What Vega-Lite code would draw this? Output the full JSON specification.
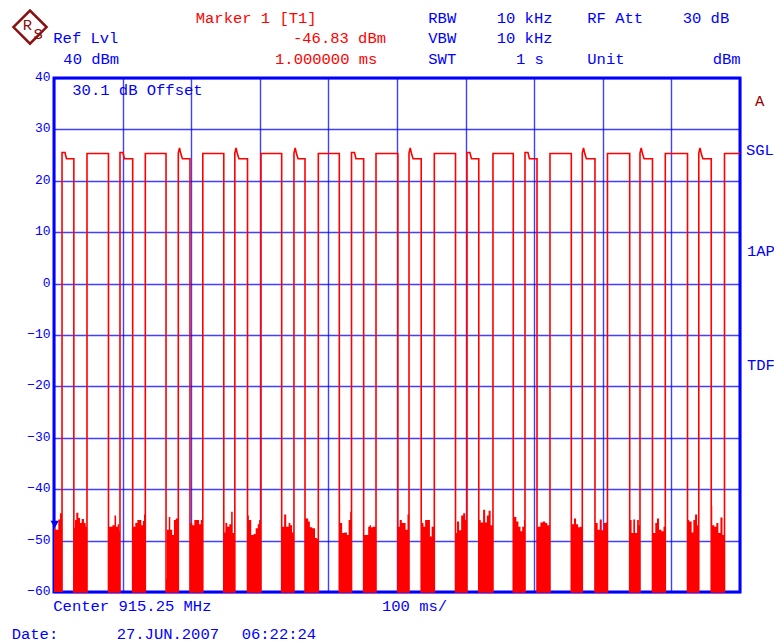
{
  "$schema": "https://vega.github.io/schema/vega-lite/v6.json",
  "autosize": "none",
  "width": 686,
  "height": 514,
  "padding": {"left": 54, "top": 78, "right": 34, "bottom": 52},
  "background": "#ffffff",
  "config": {
    "view": {"stroke": "#0000ff", "strokeWidth": 3},
    "font": "Liberation Mono"
  },
  "datasets": {
    "trace": [
      {"t": 11.7, "dBm": -60}, {"t": 11.7, "dBm": 25.5}, {"t": 16.0, "dBm": 25.5}, {"t": 18.2, "dBm": 24.3}, {"t": 28.9, "dBm": 24.3}, {"t": 28.9, "dBm": -60},
      {"t": 48.1, "dBm": -60}, {"t": 48.1, "dBm": 25.3}, {"t": 79.4, "dBm": 25.3}, {"t": 79.4, "dBm": -60},
      {"t": 96.2, "dBm": -60}, {"t": 96.2, "dBm": 25.5}, {"t": 100.5, "dBm": 25.5}, {"t": 102.7, "dBm": 24.3}, {"t": 114.7, "dBm": 24.3}, {"t": 114.7, "dBm": -60},
      {"t": 133.1, "dBm": -60}, {"t": 133.1, "dBm": 25.3}, {"t": 163.3, "dBm": 25.3}, {"t": 163.3, "dBm": -60},
      {"t": 181.2, "dBm": -60}, {"t": 181.2, "dBm": 25.4}, {"t": 183.0, "dBm": 26.4}, {"t": 184.8, "dBm": 25.3}, {"t": 187.2, "dBm": 24.3}, {"t": 198.2, "dBm": 24.3}, {"t": 198.2, "dBm": -60},
      {"t": 216.9, "dBm": -60}, {"t": 216.9, "dBm": 25.3}, {"t": 247.5, "dBm": 25.3}, {"t": 247.5, "dBm": -60},
      {"t": 263.6, "dBm": -60}, {"t": 263.6, "dBm": 25.4}, {"t": 265.4, "dBm": 26.4}, {"t": 267.2, "dBm": 25.3}, {"t": 269.6, "dBm": 24.3}, {"t": 282.1, "dBm": 24.3}, {"t": 282.1, "dBm": -60},
      {"t": 301.7, "dBm": -60}, {"t": 301.7, "dBm": 25.3}, {"t": 331.9, "dBm": 25.3}, {"t": 331.9, "dBm": -60},
      {"t": 349.8, "dBm": -60}, {"t": 349.8, "dBm": 25.4}, {"t": 351.6, "dBm": 26.4}, {"t": 353.4, "dBm": 25.3}, {"t": 355.8, "dBm": 24.3}, {"t": 365.9, "dBm": 24.3}, {"t": 365.9, "dBm": -60},
      {"t": 385.3, "dBm": -60}, {"t": 385.3, "dBm": 25.3}, {"t": 415.9, "dBm": 25.3}, {"t": 415.9, "dBm": -60},
      {"t": 433.7, "dBm": -60}, {"t": 433.7, "dBm": 25.5}, {"t": 438.0, "dBm": 25.5}, {"t": 440.2, "dBm": 24.3}, {"t": 451.4, "dBm": 24.3}, {"t": 451.4, "dBm": -60},
      {"t": 469.4, "dBm": -60}, {"t": 469.4, "dBm": 25.3}, {"t": 501.2, "dBm": 25.3}, {"t": 501.2, "dBm": -60},
      {"t": 517.5, "dBm": -60}, {"t": 517.5, "dBm": 25.4}, {"t": 519.3, "dBm": 26.4}, {"t": 521.1, "dBm": 25.3}, {"t": 523.5, "dBm": 24.3}, {"t": 535.3, "dBm": 24.3}, {"t": 535.3, "dBm": -60},
      {"t": 554.4, "dBm": -60}, {"t": 554.4, "dBm": 25.3}, {"t": 585.3, "dBm": 25.3}, {"t": 585.3, "dBm": -60},
      {"t": 602.0, "dBm": -60}, {"t": 602.0, "dBm": 25.5}, {"t": 606.3, "dBm": 25.5}, {"t": 608.5, "dBm": 24.3}, {"t": 619.2, "dBm": 24.3}, {"t": 619.2, "dBm": -60},
      {"t": 639.9, "dBm": -60}, {"t": 639.9, "dBm": 25.3}, {"t": 669.5, "dBm": 25.3}, {"t": 669.5, "dBm": -60},
      {"t": 686.6, "dBm": -60}, {"t": 686.6, "dBm": 25.5}, {"t": 690.9, "dBm": 25.5}, {"t": 693.1, "dBm": 24.3}, {"t": 704.1, "dBm": 24.3}, {"t": 704.1, "dBm": -60},
      {"t": 723.0, "dBm": -60}, {"t": 723.0, "dBm": 25.3}, {"t": 754.1, "dBm": 25.3}, {"t": 754.1, "dBm": -60},
      {"t": 770.1, "dBm": -60}, {"t": 770.1, "dBm": 25.4}, {"t": 771.9, "dBm": 26.4}, {"t": 773.7, "dBm": 25.3}, {"t": 776.1, "dBm": 24.3}, {"t": 788.6, "dBm": 24.3}, {"t": 788.6, "dBm": -60},
      {"t": 806.8, "dBm": -60}, {"t": 806.8, "dBm": 25.3}, {"t": 839.2, "dBm": 25.3}, {"t": 839.2, "dBm": -60},
      {"t": 854.2, "dBm": -60}, {"t": 854.2, "dBm": 25.4}, {"t": 856.0, "dBm": 26.4}, {"t": 857.8, "dBm": 25.3}, {"t": 860.2, "dBm": 24.3}, {"t": 872.4, "dBm": 24.3}, {"t": 872.4, "dBm": -60},
      {"t": 891.1, "dBm": -60}, {"t": 891.1, "dBm": 25.3}, {"t": 923.5, "dBm": 25.3}, {"t": 923.5, "dBm": -60},
      {"t": 939.9, "dBm": -60}, {"t": 939.9, "dBm": 25.4}, {"t": 941.7, "dBm": 26.4}, {"t": 943.5, "dBm": 25.3}, {"t": 945.9, "dBm": 24.3}, {"t": 958.1, "dBm": 24.3}, {"t": 958.1, "dBm": -60},
      {"t": 977.4, "dBm": -60}, {"t": 977.4, "dBm": 25.3}, {"t": 1000, "dBm": 25.3}
    ],
    "noise": [
      {"g": 0, "t": 0, "dBm": -46.3}, {"g": 0, "t": 1.5, "dBm": -47.9}, {"g": 0, "t": 4.9, "dBm": -47.9}, {"g": 0, "t": 6.3, "dBm": -45.9}, {"g": 0, "t": 8.7, "dBm": -44.7}, {"g": 0, "t": 11.7, "dBm": -44.7},
      {"g": 1, "t": 28.9, "dBm": -47.5}, {"g": 1, "t": 30.6, "dBm": -46.0}, {"g": 1, "t": 32.5, "dBm": -44.6}, {"g": 1, "t": 35.5, "dBm": -45.6}, {"g": 1, "t": 37.9, "dBm": -46.6}, {"g": 1, "t": 40.3, "dBm": -45.8}, {"g": 1, "t": 43.7, "dBm": -46.6}, {"g": 1, "t": 46.2, "dBm": -47.3}, {"g": 1, "t": 48.1, "dBm": -47.3},
      {"g": 2, "t": 79.4, "dBm": -47.3}, {"g": 2, "t": 82.0, "dBm": -47.3}, {"g": 2, "t": 85.0, "dBm": -47.0}, {"g": 2, "t": 88.2, "dBm": -45.1}, {"g": 2, "t": 90.5, "dBm": -47.3}, {"g": 2, "t": 93.0, "dBm": -46.8}, {"g": 2, "t": 95.0, "dBm": -48.2}, {"g": 2, "t": 96.2, "dBm": -48.2},
      {"g": 3, "t": 114.7, "dBm": -47.3}, {"g": 3, "t": 118.5, "dBm": -46.6}, {"g": 3, "t": 121.5, "dBm": -46.0}, {"g": 3, "t": 124.5, "dBm": -46.0}, {"g": 3, "t": 127.3, "dBm": -47.0}, {"g": 3, "t": 129.6, "dBm": -46.2}, {"g": 3, "t": 131.2, "dBm": -44.9}, {"g": 3, "t": 133.1, "dBm": -44.9},
      {"g": 4, "t": 163.3, "dBm": -57.4}, {"g": 4, "t": 164.5, "dBm": -47.9}, {"g": 4, "t": 167.3, "dBm": -45.4}, {"g": 4, "t": 169.5, "dBm": -47.9}, {"g": 4, "t": 172.3, "dBm": -48.9}, {"g": 4, "t": 174.8, "dBm": -46.0}, {"g": 4, "t": 177.5, "dBm": -45.7}, {"g": 4, "t": 181.2, "dBm": -45.7},
      {"g": 5, "t": 198.2, "dBm": -46.6}, {"g": 5, "t": 201.5, "dBm": -47.0}, {"g": 5, "t": 204.5, "dBm": -46.0}, {"g": 5, "t": 208.0, "dBm": -46.0}, {"g": 5, "t": 211.5, "dBm": -46.8}, {"g": 5, "t": 214.0, "dBm": -46.0}, {"g": 5, "t": 216.9, "dBm": -46.0},
      {"g": 6, "t": 247.5, "dBm": -48.4}, {"g": 6, "t": 249.8, "dBm": -46.6}, {"g": 6, "t": 252.5, "dBm": -47.3}, {"g": 6, "t": 255.5, "dBm": -46.8}, {"g": 6, "t": 258.2, "dBm": -44.4}, {"g": 6, "t": 260.5, "dBm": -48.5}, {"g": 6, "t": 263.6, "dBm": -48.5},
      {"g": 7, "t": 282.1, "dBm": -45.1}, {"g": 7, "t": 284.0, "dBm": -46.0}, {"g": 7, "t": 287.5, "dBm": -48.9}, {"g": 7, "t": 291.0, "dBm": -48.7}, {"g": 7, "t": 294.0, "dBm": -47.6}, {"g": 7, "t": 297.0, "dBm": -46.8}, {"g": 7, "t": 299.0, "dBm": -46.0}, {"g": 7, "t": 301.7, "dBm": -46.0},
      {"g": 8, "t": 331.9, "dBm": -47.3}, {"g": 8, "t": 335.5, "dBm": -44.9}, {"g": 8, "t": 338.5, "dBm": -47.3}, {"g": 8, "t": 342.0, "dBm": -46.6}, {"g": 8, "t": 344.5, "dBm": -47.0}, {"g": 8, "t": 347.0, "dBm": -48.4}, {"g": 8, "t": 349.8, "dBm": -48.2},
      {"g": 9, "t": 365.9, "dBm": -45.7}, {"g": 9, "t": 368.5, "dBm": -45.7}, {"g": 9, "t": 370.5, "dBm": -46.3}, {"g": 9, "t": 373.0, "dBm": -47.4}, {"g": 9, "t": 376.5, "dBm": -47.6}, {"g": 9, "t": 380.5, "dBm": -49.5}, {"g": 9, "t": 383.5, "dBm": -49.7}, {"g": 9, "t": 385.3, "dBm": -49.7},
      {"g": 10, "t": 415.9, "dBm": -42.5}, {"g": 10, "t": 417.0, "dBm": -46.6}, {"g": 10, "t": 420.0, "dBm": -48.5}, {"g": 10, "t": 423.5, "dBm": -48.4}, {"g": 10, "t": 427.0, "dBm": -48.9}, {"g": 10, "t": 429.5, "dBm": -46.0}, {"g": 10, "t": 431.8, "dBm": -44.4}, {"g": 10, "t": 433.7, "dBm": -44.4},
      {"g": 11, "t": 451.4, "dBm": -48.9}, {"g": 11, "t": 456.0, "dBm": -48.9}, {"g": 11, "t": 458.0, "dBm": -47.3}, {"g": 11, "t": 460.0, "dBm": -47.0}, {"g": 11, "t": 462.0, "dBm": -47.4}, {"g": 11, "t": 465.0, "dBm": -47.3}, {"g": 11, "t": 469.4, "dBm": -47.3},
      {"g": 12, "t": 501.2, "dBm": -47.3}, {"g": 12, "t": 504.0, "dBm": -46.0}, {"g": 12, "t": 507.0, "dBm": -46.6}, {"g": 12, "t": 510.0, "dBm": -46.6}, {"g": 12, "t": 512.5, "dBm": -47.9}, {"g": 12, "t": 515.3, "dBm": -44.9}, {"g": 12, "t": 517.5, "dBm": -44.9},
      {"g": 13, "t": 535.3, "dBm": -46.6}, {"g": 13, "t": 538.5, "dBm": -47.3}, {"g": 13, "t": 541.0, "dBm": -46.0}, {"g": 13, "t": 545.0, "dBm": -46.0}, {"g": 13, "t": 548.0, "dBm": -49.2}, {"g": 13, "t": 550.5, "dBm": -47.3}, {"g": 13, "t": 554.4, "dBm": -47.3},
      {"g": 14, "t": 585.3, "dBm": -48.5}, {"g": 14, "t": 587.5, "dBm": -46.3}, {"g": 14, "t": 590.5, "dBm": -48.0}, {"g": 14, "t": 593.5, "dBm": -45.1}, {"g": 14, "t": 596.5, "dBm": -44.7}, {"g": 14, "t": 599.5, "dBm": -46.0}, {"g": 14, "t": 602.0, "dBm": -46.0},
      {"g": 15, "t": 619.2, "dBm": -46.0}, {"g": 15, "t": 622.0, "dBm": -46.5}, {"g": 15, "t": 625.5, "dBm": -44.0}, {"g": 15, "t": 628.5, "dBm": -46.5}, {"g": 15, "t": 631.0, "dBm": -45.1}, {"g": 15, "t": 633.5, "dBm": -44.2}, {"g": 15, "t": 636.5, "dBm": -47.0}, {"g": 15, "t": 639.9, "dBm": -47.0},
      {"g": 16, "t": 669.5, "dBm": -40.6}, {"g": 16, "t": 670.5, "dBm": -45.4}, {"g": 16, "t": 674.0, "dBm": -46.3}, {"g": 16, "t": 677.0, "dBm": -47.3}, {"g": 16, "t": 680.0, "dBm": -48.2}, {"g": 16, "t": 682.5, "dBm": -47.3}, {"g": 16, "t": 685.0, "dBm": -46.0}, {"g": 16, "t": 686.6, "dBm": -46.0},
      {"g": 17, "t": 704.1, "dBm": -47.3}, {"g": 17, "t": 709.0, "dBm": -46.5}, {"g": 17, "t": 712.5, "dBm": -46.3}, {"g": 17, "t": 716.0, "dBm": -46.6}, {"g": 17, "t": 719.0, "dBm": -47.0}, {"g": 17, "t": 723.0, "dBm": -47.0},
      {"g": 18, "t": 754.1, "dBm": -46.8}, {"g": 18, "t": 758.0, "dBm": -45.7}, {"g": 18, "t": 761.0, "dBm": -46.8}, {"g": 18, "t": 764.0, "dBm": -47.4}, {"g": 18, "t": 767.0, "dBm": -47.3}, {"g": 18, "t": 770.1, "dBm": -47.3},
      {"g": 19, "t": 788.6, "dBm": -46.6}, {"g": 19, "t": 792.5, "dBm": -47.9}, {"g": 19, "t": 795.5, "dBm": -45.9}, {"g": 19, "t": 798.5, "dBm": -48.0}, {"g": 19, "t": 801.5, "dBm": -46.6}, {"g": 19, "t": 804.5, "dBm": -46.5}, {"g": 19, "t": 806.8, "dBm": -46.5},
      {"g": 20, "t": 839.2, "dBm": -46.0}, {"g": 20, "t": 842.0, "dBm": -48.5}, {"g": 20, "t": 844.5, "dBm": -45.9}, {"g": 20, "t": 847.0, "dBm": -48.5}, {"g": 20, "t": 850.0, "dBm": -46.0}, {"g": 20, "t": 852.5, "dBm": -47.0}, {"g": 20, "t": 854.2, "dBm": -47.0},
      {"g": 21, "t": 872.4, "dBm": -48.5}, {"g": 21, "t": 876.5, "dBm": -46.6}, {"g": 21, "t": 879.0, "dBm": -45.7}, {"g": 21, "t": 882.0, "dBm": -47.9}, {"g": 21, "t": 885.5, "dBm": -48.2}, {"g": 21, "t": 888.5, "dBm": -47.3}, {"g": 21, "t": 891.1, "dBm": -47.3},
      {"g": 22, "t": 923.5, "dBm": -46.0}, {"g": 22, "t": 926.0, "dBm": -46.3}, {"g": 22, "t": 929.5, "dBm": -48.4}, {"g": 22, "t": 932.0, "dBm": -46.0}, {"g": 22, "t": 934.5, "dBm": -44.9}, {"g": 22, "t": 937.5, "dBm": -47.0}, {"g": 22, "t": 939.9, "dBm": -47.0},
      {"g": 23, "t": 958.1, "dBm": -43.2}, {"g": 23, "t": 959.5, "dBm": -47.0}, {"g": 23, "t": 962.5, "dBm": -47.3}, {"g": 23, "t": 965.5, "dBm": -46.6}, {"g": 23, "t": 968.5, "dBm": -48.5}, {"g": 23, "t": 971.5, "dBm": -45.5}, {"g": 23, "t": 974.5, "dBm": -48.9}, {"g": 23, "t": 977.4, "dBm": -48.9}
    ],
    "marker": [{"t": 1, "dBm": -46.83}],
    "logo": [{"t": -35.0, "dBm": 49.9}],
    "labels": [
      {"role": "marker", "label": "Marker 1 [T1]", "t": 206.6, "dBm": 51.76},
      {"role": "marker", "label": "-46.83 dBm", "t": 348.4, "dBm": 47.72},
      {"role": "marker", "label": "1.000000 ms", "t": 322.2, "dBm": 43.6},
      {"role": "setting", "label": "Ref Lvl", "t": -1.0, "dBm": 47.72},
      {"role": "setting", "label": "40 dBm", "t": 13.6, "dBm": 43.6},
      {"role": "setting", "label": "RBW", "t": 545.6, "dBm": 51.66},
      {"role": "setting", "label": "10 kHz", "t": 645.3, "dBm": 51.66},
      {"role": "setting", "label": "RF Att", "t": 777.4, "dBm": 51.66},
      {"role": "setting", "label": "30 dB", "t": 916.5, "dBm": 51.66},
      {"role": "setting", "label": "VBW", "t": 545.6, "dBm": 47.72},
      {"role": "setting", "label": "10 kHz", "t": 645.3, "dBm": 47.72},
      {"role": "setting", "label": "SWT", "t": 545.6, "dBm": 43.69},
      {"role": "setting", "label": "1 s", "t": 673.5, "dBm": 43.69},
      {"role": "setting", "label": "Unit", "t": 777.4, "dBm": 43.69},
      {"role": "setting", "label": "dBm", "t": 960.2, "dBm": 43.69},
      {"role": "setting", "label": "30.1 dB Offset", "t": 26.7, "dBm": 37.76},
      {"role": "trace", "label": "A", "t": 1021.8, "dBm": 35.53},
      {"role": "setting", "label": "SGL", "t": 1008.7, "dBm": 25.91},
      {"role": "setting", "label": "1AP", "t": 1010.2, "dBm": 6.4},
      {"role": "setting", "label": "TDF", "t": 1010.2, "dBm": -15.85},
      {"role": "setting", "label": "Center 915.25 MHz", "t": -1.0, "dBm": -62.76},
      {"role": "setting", "label": "100 ms/", "t": 478.1, "dBm": -62.72},
      {"role": "setting", "label": "Date:", "t": -61.7, "dBm": -68.26},
      {"role": "setting", "label": "27.JUN.2007", "t": 91.4, "dBm": -68.26},
      {"role": "setting", "label": "06:22:24", "t": 273.6, "dBm": -68.26},
      {"role": "logo", "label": "R", "t": -45.6, "dBm": 50.4},
      {"role": "logo", "label": "S", "t": -29.9, "dBm": 48.55}
    ]
  },
  "encoding": {
    "x": {
      "field": "t", "type": "quantitative",
      "scale": {"domain": [0, 1000], "nice": false, "zero": false},
      "axis": {"values": [0, 100, 200, 300, 400, 500, 600, 700, 800, 900, 1000], "labels": false, "ticks": false, "domain": false, "title": null, "grid": true, "gridColor": "#0000ff", "gridOpacity": 0.75, "gridWidth": 1.4}
    },
    "y": {
      "field": "dBm", "type": "quantitative",
      "scale": {"domain": [-60, 40], "nice": false, "zero": false},
      "axis": {"values": [-60, -50, -40, -30, -20, -10, 0, 10, 20, 30, 40], "ticks": false, "tickSize": 0, "domain": false, "title": null, "grid": true, "gridColor": "#0000ff", "gridOpacity": 0.75, "gridWidth": 1.4, "labelFont": "Liberation Mono", "labelFontSize": 13, "labelColor": "#0000ff", "labelPadding": 4, "labelOffset": -1.5}
    }
  },
  "layer": [
    {
      "data": {"name": "noise"},
      "mark": {"type": "area", "color": "#ff0000", "interpolate": "step-after", "opacity": 1},
      "encoding": {
        "y2": {"datum": -60},
        "detail": {"field": "g", "type": "nominal"}
      }
    },
    {
      "data": {"name": "trace"},
      "mark": {"type": "line", "color": "#ff0000", "strokeWidth": 1.6},
      "encoding": {"order": {"value": null}}
    },
    {
      "data": {"name": "marker"},
      "mark": {"type": "point", "shape": "triangle-down", "filled": true, "color": "#0000ff", "size": 70, "opacity": 1}
    },
    {
      "data": {"name": "logo"},
      "mark": {"type": "point", "shape": "diamond", "filled": false, "stroke": "#8b1010", "strokeWidth": 2.5, "size": 1100, "opacity": 1}
    },
    {
      "data": {"name": "labels"},
      "mark": {"type": "text", "align": "left", "baseline": "middle", "font": "Liberation Mono", "fontSize": 15.5},
      "encoding": {
        "text": {"field": "label"},
        "color": {
          "field": "role", "type": "nominal", "legend": null,
          "scale": {"domain": ["marker", "setting", "trace", "logo"], "range": ["#ff0000", "#0000ff", "#990000", "#8b1010"]}
        }
      }
    }
  ]
}
